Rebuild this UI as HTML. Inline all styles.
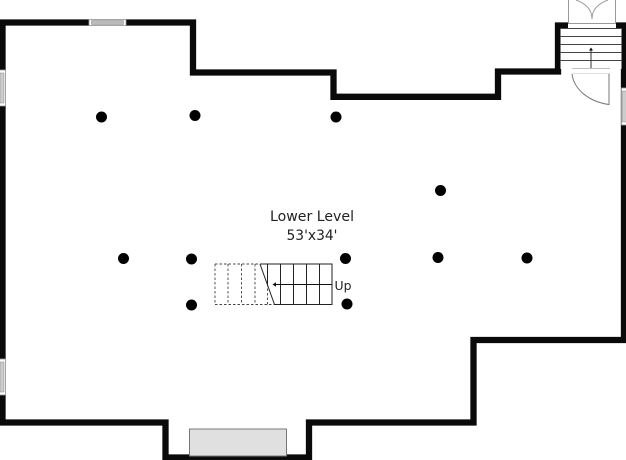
<!DOCTYPE html>
<html><head><meta charset="utf-8">
<style>
html,body{margin:0;padding:0;background:#fff;width:626px;height:460px;overflow:hidden}
svg{display:block}
text{font-family:"DejaVu Sans","Liberation Sans",sans-serif;fill:#222}
</style></head>
<body>
<svg width="626" height="460" viewBox="0 0 626 460" xmlns="http://www.w3.org/2000/svg">
<!-- main wall -->
<path d="M2.500 425V22.500H193V72.500H333.500V96.800H498V71.500H558V25.500H624V340H473.500V422.500H309V457.500H165.500V422.500H-5" fill="none" stroke="#0a0a0a" stroke-width="6.300" stroke-linejoin="miter"/>
<!-- top window -->
<rect x="89" y="19.500" width="37" height="6" fill="#fff" stroke="#999" stroke-width=".8"/>
<rect x="91.500" y="20.500" width="32" height="4" fill="#bbb" stroke="#888" stroke-width=".5"/>
<!-- left windows -->
<rect x="-1" y="70" width="6.500" height="36" fill="#fff" stroke="#999" stroke-width=".8"/>
<rect x="0" y="73" width="4" height="30" fill="#ccc" stroke="#888" stroke-width=".5"/>
<rect x="-1" y="359" width="6.500" height="36" fill="#fff" stroke="#999" stroke-width=".8"/>
<rect x="0" y="362" width="4" height="30" fill="#ccc" stroke="#888" stroke-width=".5"/>
<!-- right window -->
<rect x="621.500" y="88" width="6" height="37" fill="#fff" stroke="#999" stroke-width=".8"/>
<rect x="622.500" y="91" width="4" height="31" fill="#ccc" stroke="#888" stroke-width=".5"/>
<!-- top stair box -->
<rect x="560.500" y="28" width="61" height="41" fill="#fff"/>
<rect x="568" y="-2" width="48" height="30" fill="#fff"/>
<path d="M568.500 0V23.500H615.500V0" fill="none" stroke="#999" stroke-width="1"/>
<path d="M576 0C584 3 592 8 592 19C592 8 600 3 608 0" fill="none" stroke="#999" stroke-width="1"/>
<path d="M560 28.500H622M560 36.500H622M560 44.500H622M560 52.500H622M560 60.500H622" stroke="#444" stroke-width="1" fill="none"/>
<path d="M591 69V49" stroke="#333" stroke-width="1"/>
<path d="M591 47.500l-2 3h4z" fill="#111"/>
<!-- exterior door -->
<rect x="572" y="68" width="38" height="7" fill="#fff"/>
<path d="M572 74H610M572 68.500H610" stroke="#aaa" stroke-width=".8"/>
<path d="M572 74C574 90 590 102 609 104.500V74" fill="#fff" stroke="#777" stroke-width="1"/>
<!-- bottom bay -->
<rect x="189.500" y="429" width="97" height="27" fill="#e0e0e0" stroke="#777" stroke-width="1"/>
<!-- interior stairs -->
<path d="M215 264H260M215 304.500H274M215 264V304.500M228 264V304.500M241.500 264V304.500M255 264V304.500M267.500 284V304.500" fill="none" stroke="#444" stroke-width=".9" stroke-dasharray="2.500 2"/>
<path d="M260 264H332V304.500H274.500L260 264M267.500 264V284M280.500 264V304.500M293.500 264V304.500M306.500 264V304.500M319.500 264V304.500" fill="none" stroke="#222" stroke-width="1"/>
<path d="M332 284.500H275" stroke="#111" stroke-width="1"/>
<path d="M272.500 284.500l3.500-2.200v4.400z" fill="#111"/>
<!-- dots -->
<g fill="#000">
<circle cx="101.500" cy="117" r="5.500"/>
<circle cx="195" cy="115.500" r="5.500"/>
<circle cx="336" cy="117" r="5.500"/>
<circle cx="440.500" cy="190.500" r="5.500"/>
<circle cx="123.500" cy="258.500" r="5.500"/>
<circle cx="191.500" cy="259" r="5.500"/>
<circle cx="345.500" cy="258.500" r="5.500"/>
<circle cx="438" cy="257.500" r="5.500"/>
<circle cx="527" cy="258" r="5.500"/>
<circle cx="191.500" cy="305" r="5.500"/>
<circle cx="347" cy="304" r="5.500"/>
</g>
<!-- labels -->
<text x="270" y="221" font-size="14" textLength="84" lengthAdjust="spacingAndGlyphs">Lower Level</text>
<text x="286.500" y="240" font-size="14" textLength="51" lengthAdjust="spacingAndGlyphs">53'x34'</text>
<text x="334.500" y="290" font-size="12.500" textLength="17" lengthAdjust="spacingAndGlyphs">Up</text>
</svg>
</body></html>
